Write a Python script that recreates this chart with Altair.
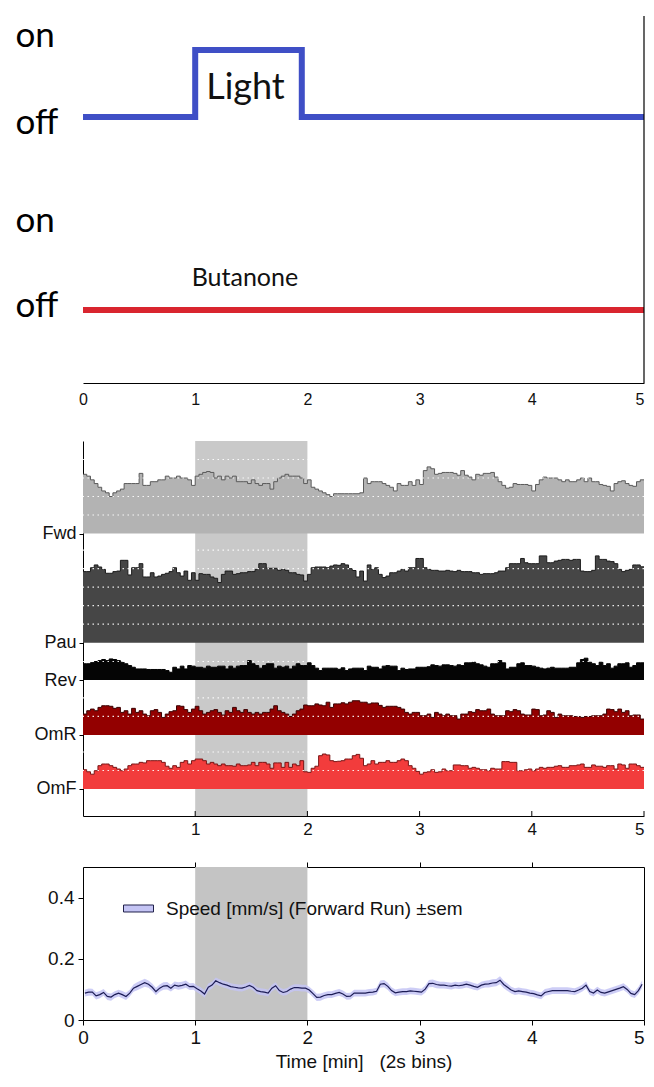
import altair as alt
import pandas as pd

BIN_MIN = 2 / 60  # 2 s bins, in minutes

# ---------------- top panel: stimulus protocol ----------------
light_time = [0, 1, 1.95, 5]
light_state = [0, 1, 0, 0]
butanone_time = [0, 5]
butanone_state = [0, 0]
stim_names = ["Light", "Butanone"]
stim_colors = ["#3f4fc6", "#d9252f"]
stim_off_level = [273, 80]
stim_on_step = 67
state_label_pos = [344, 257, 159, 74]
state_label_text = ["on", "off", "on", "off"]
stim_text_time = [1.448, 1.443]
stim_text_level = [291, 104]
stim_text_size = [36, 25]
light_window = [1, 2]

# ---------------- middle panel: behaviour fractions ----------------
behaviour_names = ["Fwd", "Pau", "Rev", "OmR", "OmF"]
behaviour_fill = ["#b3b3b3", "#464646", "#050505", "#930000", "#f23c3c"]
behaviour_line = ["#5a5a5a", "#1c1c1c", "#000000", "#3a0000", "#7a1515"]
behaviour_base = [1.527, 0.937, 0.735, 0.438, 0.146]
behaviour_grid_steps = [4, 5, 1, 2, 2]

fwd = [0.32, 0.31, 0.29, 0.27, 0.25, 0.23, 0.22, 0.20, 0.22, 0.23,
       0.24, 0.27, 0.27, 0.27, 0.27, 0.325, 0.26, 0.26, 0.28, 0.28,
       0.29, 0.29, 0.31, 0.30, 0.30, 0.31, 0.30, 0.30, 0.29, 0.26,
       0.31, 0.32, 0.33, 0.335, 0.33, 0.30, 0.31, 0.29, 0.31, 0.30,
       0.31, 0.28, 0.28, 0.28, 0.27, 0.29, 0.27, 0.26, 0.27, 0.27,
       0.24, 0.28, 0.30, 0.31, 0.32, 0.31, 0.31, 0.31, 0.30, 0.27,
       0.29, 0.25, 0.24, 0.23, 0.22, 0.21, 0.20, 0.215, 0.215, 0.215,
       0.215, 0.215, 0.215, 0.215, 0.22, 0.30, 0.27, 0.28, 0.28, 0.28,
       0.27, 0.26, 0.25, 0.23, 0.27, 0.26, 0.26, 0.28, 0.26, 0.29,
       0.265, 0.34, 0.36, 0.35, 0.32, 0.325, 0.33, 0.33, 0.33, 0.325,
       0.315, 0.34, 0.315, 0.305, 0.29, 0.32, 0.315, 0.325, 0.325, 0.33,
       0.305, 0.28, 0.26, 0.245, 0.25, 0.27, 0.265, 0.265, 0.265, 0.26,
       0.23, 0.265, 0.29, 0.305, 0.30, 0.30, 0.30, 0.29, 0.28, 0.29,
       0.28, 0.28, 0.29, 0.30, 0.28, 0.30, 0.28, 0.28, 0.265, 0.26,
       0.255, 0.23, 0.27, 0.28, 0.285, 0.27, 0.26, 0.255, 0.28, 0.29]

pau = [0.384, 0.384, 0.405, 0.42, 0.409, 0.396, 0.375, 0.375, 0.384, 0.387,
       0.445, 0.445, 0.366, 0.405, 0.405, 0.427, 0.355, 0.355, 0.378, 0.355,
       0.36, 0.369, 0.375, 0.384, 0.405, 0.378, 0.36, 0.387, 0.337, 0.378,
       0.337, 0.373, 0.369, 0.369, 0.355, 0.348, 0.325, 0.369, 0.387, 0.387,
       0.369, 0.373, 0.378, 0.378, 0.384, 0.384, 0.396, 0.427, 0.427, 0.402,
       0.402, 0.402, 0.391, 0.396, 0.391, 0.378, 0.378, 0.369, 0.366, 0.333,
       0.369, 0.405, 0.409, 0.409, 0.409, 0.405, 0.414, 0.42, 0.418, 0.427,
       0.42, 0.40, 0.39, 0.355, 0.387, 0.333, 0.42, 0.396, 0.405, 0.369,
       0.352, 0.36, 0.378, 0.378, 0.387, 0.396, 0.387, 0.405, 0.405, 0.455,
       0.455, 0.405, 0.396, 0.391, 0.391, 0.387, 0.387, 0.391, 0.387, 0.384,
       0.391, 0.384, 0.384, 0.384, 0.378, 0.378, 0.369, 0.373, 0.373, 0.373,
       0.378, 0.387, 0.387, 0.405, 0.427, 0.427, 0.427, 0.455, 0.432, 0.427,
       0.427, 0.427, 0.469, 0.469, 0.432, 0.432, 0.441, 0.445, 0.45, 0.45,
       0.445, 0.45, 0.45, 0.387, 0.384, 0.384, 0.391, 0.469, 0.45, 0.45,
       0.441, 0.438, 0.427, 0.396, 0.384, 0.391, 0.396, 0.42, 0.42, 0.41]

rev = [0.088, 0.088, 0.094, 0.100, 0.105, 0.111, 0.105, 0.114, 0.111, 0.105,
       0.096, 0.088, 0.078, 0.069, 0.060, 0.060, 0.060, 0.057, 0.057, 0.057,
       0.057, 0.057, 0.051, 0.042, 0.069, 0.060, 0.075, 0.060, 0.078, 0.075,
       0.069, 0.069, 0.064, 0.075, 0.069, 0.069, 0.075, 0.075, 0.060, 0.075,
       0.064, 0.075, 0.078, 0.078, 0.105, 0.088, 0.078, 0.064, 0.078, 0.088,
       0.088, 0.064, 0.075, 0.069, 0.075, 0.060, 0.075, 0.088, 0.078, 0.078,
       0.093, 0.078, 0.064, 0.051, 0.064, 0.064, 0.064, 0.064, 0.058, 0.066,
       0.051, 0.060, 0.064, 0.064, 0.064, 0.051, 0.075, 0.069, 0.069, 0.060,
       0.075, 0.078, 0.075, 0.075, 0.051, 0.064, 0.057, 0.060, 0.060, 0.069,
       0.069, 0.069, 0.072, 0.082, 0.078, 0.075, 0.082, 0.082, 0.078, 0.075,
       0.082, 0.078, 0.093, 0.093, 0.096, 0.088, 0.082, 0.075, 0.069, 0.088,
       0.088, 0.105, 0.093, 0.060, 0.069, 0.069, 0.088, 0.093, 0.078, 0.078,
       0.075, 0.069, 0.064, 0.060, 0.064, 0.069, 0.064, 0.064, 0.064, 0.064,
       0.069, 0.069, 0.093, 0.111, 0.118, 0.096, 0.088, 0.078, 0.096, 0.078,
       0.088, 0.064, 0.075, 0.088, 0.088, 0.093, 0.069, 0.078, 0.093, 0.093]

omr = [0.113, 0.131, 0.140, 0.131, 0.149, 0.158, 0.158, 0.155, 0.144, 0.149,
       0.122, 0.131, 0.113, 0.144, 0.122, 0.131, 0.113, 0.104, 0.131, 0.137,
       0.122, 0.095, 0.113, 0.126, 0.131, 0.158, 0.155, 0.137, 0.122, 0.140,
       0.155, 0.131, 0.113, 0.122, 0.131, 0.137, 0.122, 0.108, 0.131, 0.122,
       0.149, 0.131, 0.122, 0.137, 0.122, 0.113, 0.122, 0.113, 0.122, 0.122,
       0.140, 0.158, 0.131, 0.122, 0.113, 0.100, 0.113, 0.131, 0.140, 0.162,
       0.158, 0.158, 0.168, 0.162, 0.158, 0.177, 0.149, 0.168, 0.168, 0.174,
       0.168, 0.177, 0.185, 0.185, 0.177, 0.177, 0.168, 0.173, 0.173, 0.160,
       0.149, 0.155, 0.155, 0.155, 0.149, 0.140, 0.122, 0.113, 0.122, 0.122,
       0.104, 0.104, 0.113, 0.095, 0.122, 0.113, 0.104, 0.113, 0.104, 0.104,
       0.086, 0.113, 0.113, 0.126, 0.122, 0.137, 0.131, 0.131, 0.140, 0.113,
       0.104, 0.104, 0.104, 0.131, 0.126, 0.137, 0.131, 0.113, 0.108, 0.108,
       0.140, 0.137, 0.104, 0.108, 0.131, 0.122, 0.095, 0.113, 0.104, 0.104,
       0.104, 0.100, 0.100, 0.095, 0.100, 0.100, 0.104, 0.104, 0.104, 0.113,
       0.140, 0.137, 0.126, 0.140, 0.122, 0.131, 0.104, 0.108, 0.108, 0.086]

omf = [0.104, 0.093, 0.080, 0.099, 0.126, 0.135, 0.135, 0.126, 0.117, 0.108,
       0.099, 0.108, 0.126, 0.135, 0.135, 0.144, 0.141, 0.153, 0.153, 0.153,
       0.153, 0.144, 0.123, 0.112, 0.126, 0.117, 0.144, 0.153, 0.135, 0.153,
       0.162, 0.162, 0.153, 0.135, 0.144, 0.135, 0.126, 0.135, 0.126, 0.126,
       0.123, 0.135, 0.126, 0.126, 0.130, 0.144, 0.126, 0.144, 0.144, 0.135,
       0.112, 0.141, 0.141, 0.117, 0.144, 0.117, 0.135, 0.126, 0.153, 0.093,
       0.090, 0.112, 0.123, 0.180, 0.189, 0.184, 0.153, 0.148, 0.150, 0.153,
       0.162, 0.162, 0.180, 0.187, 0.166, 0.126, 0.135, 0.153, 0.135, 0.144,
       0.144, 0.153, 0.144, 0.144, 0.153, 0.162, 0.153, 0.126, 0.112, 0.095,
       0.080, 0.090, 0.093, 0.104, 0.090, 0.093, 0.108, 0.099, 0.099, 0.130,
       0.130, 0.126, 0.126, 0.112, 0.117, 0.112, 0.104, 0.104, 0.099, 0.112,
       0.108, 0.108, 0.148, 0.148, 0.144, 0.144, 0.099, 0.099, 0.104, 0.108,
       0.099, 0.108, 0.117, 0.112, 0.117, 0.117, 0.123, 0.126, 0.117, 0.117,
       0.126, 0.126, 0.130, 0.135, 0.117, 0.117, 0.130, 0.123, 0.123, 0.117,
       0.126, 0.126, 0.108, 0.135, 0.130, 0.112, 0.135, 0.135, 0.126, 0.117]

# ---------------- bottom panel: forward speed ----------------
speed_label = "Speed [mm/s] (Forward Run) \u00b1sem"
speed = [0.088, 0.091, 0.091, 0.079, 0.083, 0.090, 0.077, 0.075, 0.083, 0.088,
         0.083, 0.077, 0.088, 0.104, 0.110, 0.116, 0.122, 0.117, 0.107, 0.093,
         0.104, 0.111, 0.112, 0.104, 0.114, 0.111, 0.113, 0.117, 0.109, 0.110,
         0.102, 0.095, 0.085, 0.107, 0.114, 0.128, 0.122, 0.117, 0.114, 0.109,
         0.107, 0.105, 0.104, 0.108, 0.113, 0.107, 0.096, 0.093, 0.091, 0.088,
         0.104, 0.112, 0.096, 0.090, 0.093, 0.101, 0.106, 0.106, 0.104, 0.104,
         0.098, 0.086, 0.074, 0.075, 0.080, 0.083, 0.083, 0.087, 0.090, 0.085,
         0.077, 0.078, 0.088, 0.088, 0.088, 0.088, 0.090, 0.091, 0.094, 0.117,
         0.119, 0.110, 0.096, 0.089, 0.091, 0.093, 0.093, 0.095, 0.094, 0.093,
         0.091, 0.101, 0.119, 0.120, 0.116, 0.114, 0.114, 0.112, 0.111, 0.114,
         0.112, 0.114, 0.117, 0.114, 0.110, 0.107, 0.114, 0.117, 0.118, 0.121,
         0.122, 0.130, 0.116, 0.107, 0.098, 0.093, 0.095, 0.093, 0.091, 0.088,
         0.086, 0.082, 0.079, 0.090, 0.093, 0.096, 0.096, 0.096, 0.096, 0.096,
         0.094, 0.093, 0.098, 0.104, 0.114, 0.093, 0.088, 0.098, 0.090, 0.088,
         0.092, 0.096, 0.100, 0.104, 0.109, 0.100, 0.087, 0.083, 0.096, 0.117]
speed_sem = [0.011, 0.012, 0.011, 0.012, 0.012, 0.011, 0.012, 0.012, 0.011, 0.011,
             0.012, 0.012, 0.011, 0.012, 0.013, 0.013, 0.013, 0.012, 0.012, 0.012,
             0.012, 0.012, 0.012, 0.011, 0.012, 0.012, 0.012, 0.012, 0.011, 0.011,
             0.011, 0.012, 0.012, 0.012, 0.011, 0.011, 0.011, 0.011, 0.011, 0.011,
             0.011, 0.011, 0.011, 0.011, 0.011, 0.011, 0.011, 0.011, 0.011, 0.011,
             0.011, 0.011, 0.011, 0.011, 0.011, 0.011, 0.011, 0.011, 0.011, 0.011,
             0.011, 0.012, 0.012, 0.012, 0.011, 0.011, 0.011, 0.011, 0.011, 0.011,
             0.011, 0.011, 0.011, 0.011, 0.011, 0.011, 0.011, 0.011, 0.011, 0.012,
             0.012, 0.012, 0.011, 0.011, 0.011, 0.011, 0.011, 0.011, 0.011, 0.011,
             0.011, 0.012, 0.012, 0.012, 0.012, 0.011, 0.011, 0.011, 0.011, 0.011,
             0.011, 0.011, 0.011, 0.011, 0.011, 0.011, 0.011, 0.011, 0.012, 0.012,
             0.012, 0.013, 0.012, 0.012, 0.011, 0.011, 0.011, 0.011, 0.011, 0.011,
             0.011, 0.011, 0.011, 0.011, 0.011, 0.011, 0.011, 0.011, 0.011, 0.011,
             0.011, 0.011, 0.011, 0.011, 0.012, 0.011, 0.011, 0.011, 0.011, 0.011,
             0.011, 0.011, 0.011, 0.011, 0.011, 0.011, 0.011, 0.011, 0.012, 0.012]

# ================= build tables =================
stim_rows = []
for name, times, states, off in zip(stim_names, [light_time, butanone_time],
                                    [light_state, butanone_state], stim_off_level):
    for t, s in zip(times, states):
        stim_rows.append({"stim": name, "t": t, "level": off + s * stim_on_step})
stim_df = pd.DataFrame(stim_rows)
stim_text_df = pd.DataFrame({"label": stim_names, "t": stim_text_time,
                             "level": stim_text_level, "fs": stim_text_size})
band_df = pd.DataFrame({"start": [light_window[0]], "end": [light_window[1]]})

beh_rows = []
for name, vals, base in zip(behaviour_names, [fwd, pau, rev, omr, omf], behaviour_base):
    for i, v in enumerate(vals + [vals[-1]]):
        beh_rows.append({"behaviour": name, "t": i * BIN_MIN, "base": base, "top": base + v})
beh_df = pd.DataFrame(beh_rows)
grid_rows = []
for base, n in zip(behaviour_base, behaviour_grid_steps):
    for k in range(1, n + 1):
        grid_rows.append({"top": base + 0.1 * k})
grid_df = pd.DataFrame(grid_rows)
tick_df = pd.DataFrame({"t": [1, 2, 3, 4, 5]})

speed_df = pd.DataFrame({
    "t": [(i + 0.5) * BIN_MIN for i in range(len(speed))],
    "speed": speed,
    "lo": [s - e for s, e in zip(speed, speed_sem)],
    "hi": [s + e for s, e in zip(speed, speed_sem)],
    "series": speed_label,
})

W = 561
FONT = "Liberation Sans"
LAST_RIGHT = {"condition": {"test": "datum.value == 5", "value": "right"}, "value": "center"}

# ================= top panel =================
x_dom = alt.Scale(domain=[0, 5], nice=False, zero=False)
top_yscale = alt.Scale(domain=[0, 374], nice=False)
state_expr = " : ".join(f"datum.value == {p} ? '{txt}'" for p, txt in
                        zip(state_label_pos, state_label_text)) + " : ''"
top_xaxis = alt.Axis(values=[0, 1, 2, 3, 4, 5], format="d", title=None, offset=-7,
                     ticks=False, labelPadding=8, labelFontSize=16, labelFlush=False,
                     labelAlign=LAST_RIGHT, domainColor="black", domainWidth=1.2, minExtent=0)
top_yaxis = alt.Axis(values=state_label_pos, labelExpr=state_expr, domain=False, ticks=False,
                     labelAlign="left", labelBaseline="alphabetic", labelPadding=68,
                     labelFontSize=35, labelFont="Lato", labelColor="black", title=None,
                     labelOverlap=False, minExtent=0)

stim_lines = alt.Chart(stim_df).mark_line(interpolate="step-after", strokeWidth=6,
                                          strokeCap="butt").encode(
    x=alt.X("t:Q", scale=x_dom, axis=top_xaxis),
    y=alt.Y("level:Q", scale=top_yscale, axis=top_yaxis),
    stroke=alt.Stroke("stim:N", scale=alt.Scale(domain=stim_names, range=stim_colors), legend=None),
)
stim_text = alt.Chart(stim_text_df).mark_text(font="Lato", baseline="alphabetic",
                                              color="#111").encode(
    x=alt.X("t:Q", scale=x_dom, axis=top_xaxis),
    y=alt.Y("level:Q", scale=top_yscale, axis=top_yaxis),
    text="label:N",
    size=alt.Size("fs:Q", scale=None, legend=None),
)
right_border = alt.Chart(pd.DataFrame({"t": [5], "lo": [7], "hi": [374]})).mark_rule(
    color="black", strokeWidth=1.2).encode(
    x=alt.X("t:Q", scale=x_dom, axis=top_xaxis),
    y=alt.Y("lo:Q", scale=top_yscale, axis=top_yaxis),
    y2="hi:Q",
)
top = alt.layer(stim_lines, stim_text, right_border).properties(width=W, height=374)

# ================= middle panel =================
mid_yscale = alt.Scale(domain=[0, 2.027], nice=False, zero=False)
order = sorted(zip(behaviour_base, behaviour_names), reverse=True)
name_expr = ""
for b, n in order[:-1]:
    name_expr += f"datum.value > {b - 0.01} ? '{n}' : "
name_expr += f"'{order[-1][1]}'"
mid_yaxis = alt.Axis(values=behaviour_base, labelExpr=name_expr, title=None, tickSize=4,
                     labelPadding=3, labelFontSize=18, domainColor="black", labelOverlap=False,
                     minExtent=0)
mid_xaxis = alt.Axis(values=[1, 2, 3, 4, 5], format="d", title=None, ticks=False,
                     labelPadding=5, labelFontSize=17, labelFlush=False, labelAlign=LAST_RIGHT,
                     domainColor="black", minExtent=0)

mid_band = alt.Chart(band_df).mark_rect(color="#c9c9c9").encode(
    x=alt.X("start:Q", scale=x_dom, axis=mid_xaxis), x2="end:Q")
mid_area = alt.Chart(beh_df).mark_area(interpolate="step-after").encode(
    x=alt.X("t:Q", scale=x_dom, axis=mid_xaxis),
    y=alt.Y("top:Q", scale=mid_yscale, axis=mid_yaxis, stack=None),
    y2="base:Q",
    fill=alt.Fill("behaviour:N", scale=alt.Scale(domain=behaviour_names, range=behaviour_fill),
                  legend=None),
)
mid_line = alt.Chart(beh_df).mark_line(interpolate="step-after", strokeWidth=1).encode(
    x=alt.X("t:Q", scale=x_dom, axis=mid_xaxis),
    y=alt.Y("top:Q", scale=mid_yscale, axis=mid_yaxis, stack=None),
    stroke=alt.Stroke("behaviour:N", scale=alt.Scale(domain=behaviour_names, range=behaviour_line),
                      legend=None),
)
mid_grid = alt.Chart(grid_df).mark_rule(color="white", strokeWidth=1.2, strokeDash=[1.5, 3.5],
                                        opacity=0.9).encode(
    y=alt.Y("top:Q", scale=mid_yscale, axis=mid_yaxis))
mid_ticks = alt.Chart(tick_df).mark_rule(color="black", strokeWidth=1).encode(
    x=alt.X("t:Q", scale=x_dom, axis=mid_xaxis),
    y=alt.datum(0, scale=mid_yscale), y2=alt.datum(0.027))
middle = alt.layer(mid_band, mid_area, mid_line, mid_grid, mid_ticks).properties(width=W, height=375)

# ================= bottom panel =================
bot_yscale = alt.Scale(domain=[0, 0.5], nice=False)
bot_band = alt.Chart(band_df).mark_rect(color="#c4c4c4").encode(
    x=alt.X("start:Q", scale=x_dom,
            axis=alt.Axis(orient="top", values=[1, 2, 3, 4], labels=False, tickSize=5,
                          domain=False, title=None, minExtent=0, maxExtent=5)),
    x2="end:Q")
bot_sem = alt.Chart(speed_df).mark_area(opacity=0.85).encode(
    x=alt.X("t:Q", scale=x_dom,
            axis=alt.Axis(values=[0, 1, 2, 3, 4, 5], format="d", tickSize=5, labelPadding=3,
                          labelFontSize=19, labelFlush=False, labelAlign=LAST_RIGHT, domain=False,
                          title="Time [min]\u00a0\u00a0\u00a0(2s bins)", titleFontSize=19,
                          titlePadding=5, minExtent=0)),
    y=alt.Y("lo:Q", scale=bot_yscale,
            axis=alt.Axis(values=[0, 0.2, 0.4],
                          labelExpr="datum.value == 0 ? '0' : format(datum.value, '.1f')",
                          tickSize=5, labelPadding=4, labelFontSize=19, domain=False, title=None,
                          minExtent=0)),
    y2="hi:Q",
    fill=alt.Fill("series:N", scale=alt.Scale(range=["#c4c4f4"]),
                  legend=alt.Legend(orient="none", legendX=40, legendY=26, title=None,
                                    symbolType="M-1,-0.233H1V0.233H-1Z", symbolSize=900,
                                    symbolStrokeColor="#20204a", symbolStrokeWidth=1,
                                    symbolOpacity=1, labelFontSize=19, labelFont=FONT,
                                    labelColor="#111", labelOffset=12, labelLimit=0,
                                    padding=0)),
)
bot_line = alt.Chart(speed_df).mark_line(color="#1c1c55", strokeWidth=1.2).encode(
    x=alt.X("t:Q", scale=x_dom, axis=None),
    y=alt.Y("speed:Q", scale=bot_yscale, axis=None),
)
bottom = alt.layer(bot_band, bot_sem, bot_line).resolve_axis(
    x="independent", y="independent").properties(
    width=W, height=153, view=alt.ViewBackground(stroke="black", strokeWidth=1))

chart = alt.vconcat(top, middle, bottom, spacing=51, bounds="flush").resolve_scale(
    fill="independent", stroke="independent", size="independent"
).properties(
    padding={"left": 7, "top": 7, "right": -11, "bottom": 0}
).configure_view(stroke=None).configure_axis(
    labelFont=FONT, labelColor="#111", titleFont=FONT, titleColor="#111",
    titleFontWeight="normal", domainColor="black", tickColor="black", grid=False,
    labelFontWeight="normal")

chart.save("out.html", embed_options={"renderer": "svg", "actions": False})
